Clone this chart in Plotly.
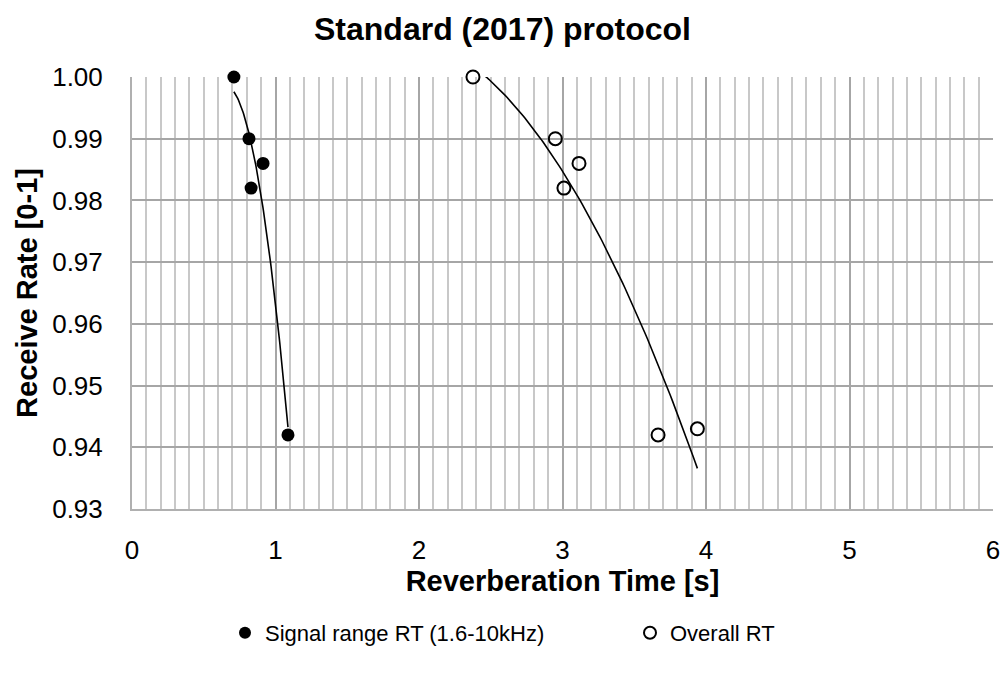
import numpy as np
import plotly.graph_objects as go

# Data
signal_rt = [0.71, 0.815, 0.913, 0.83, 1.087]
signal_rate = [1.000, 0.990, 0.986, 0.982, 0.942]
overall_rt = [2.376, 2.95, 3.115, 3.01, 3.666, 3.94]
overall_rate = [1.000, 0.990, 0.986, 0.982, 0.942, 0.943]

series_names = ["Signal range RT (1.6-10kHz)", "Overall RT"]
title = "Standard (2017) protocol"
x_title = "Reverberation Time [s]"
y_title = "Receive Rate [0-1]"

FONT = "Liberation Sans, Arial, sans-serif"


def trend(xs, ys):
    c = np.polyfit(xs, ys, 2)
    xx = np.linspace(min(xs), max(xs), 100)
    return xx, np.polyval(c, xx)


fig = go.Figure()

tx, ty = trend(signal_rt, signal_rate)
fig.add_trace(go.Scatter(x=tx, y=ty, mode="lines", line=dict(color="black", width=1.6),
                         showlegend=False, hoverinfo="skip"))
tx2, ty2 = trend(overall_rt, overall_rate)
fig.add_trace(go.Scatter(x=tx2, y=ty2, mode="lines", line=dict(color="black", width=1.6),
                         showlegend=False, hoverinfo="skip"))

fig.add_trace(go.Scatter(x=signal_rt, y=signal_rate, mode="markers", name=series_names[0],
                         marker=dict(symbol="circle", size=13, color="black"),
                         cliponaxis=False, legend="legend"))
fig.add_trace(go.Scatter(x=overall_rt, y=overall_rate, mode="markers", name=series_names[1],
                         marker=dict(symbol="circle-open", size=13, color="black",
                                     line=dict(width=2, color="black")),
                         cliponaxis=False, legend="legend2"))

legend_common = dict(orientation="h", xanchor="left", xref="container", yref="container",
                     y=0.065, yanchor="middle", font=dict(size=22), itemsizing="constant",
                     bgcolor="rgba(0,0,0,0)")

fig.update_layout(
    width=1005, height=677,
    margin=dict(l=132, r=12, t=77, b=168, autoexpand=False),
    paper_bgcolor="white", plot_bgcolor="white",
    font=dict(family=FONT, size=26, color="black"),
    title=dict(text="<b>" + title + "</b>", x=0.5, xanchor="center", y=0.957, yanchor="middle",
               font=dict(size=32)),
    showlegend=True,
    legend=dict(x=225 / 1005, **legend_common),
    legend2=dict(x=630 / 1005, **legend_common),
    xaxis=dict(range=[0, 6], tick0=0, dtick=1, showgrid=True, gridcolor="#a6a6a6", gridwidth=2,
               minor=dict(dtick=0.1, showgrid=True, gridcolor="#c8c8c8", gridwidth=2),
               zeroline=False, showline=True, linecolor="#b0b0b0", linewidth=2,
               automargin=False,
               ticks="outside", ticklen=17, tickcolor="rgba(0,0,0,0)", tickfont=dict(size=26),
               title=dict(text="<b>" + x_title + "</b>", font=dict(size=29), standoff=6)),
    yaxis=dict(range=[0.93, 1.0], tick0=0.93, dtick=0.01, tickformat=".2f", showgrid=True,
               gridcolor="#a6a6a6", gridwidth=2, zeroline=False, showline=True,
               linecolor="#b0b0b0", linewidth=2, automargin=False,
               ticks="outside", ticklen=22, tickcolor="rgba(0,0,0,0)", tickfont=dict(size=26),
               title=dict(text="<b>" + y_title + "</b>", font=dict(size=29), standoff=6)),
)

fig.write_html("out.html")
